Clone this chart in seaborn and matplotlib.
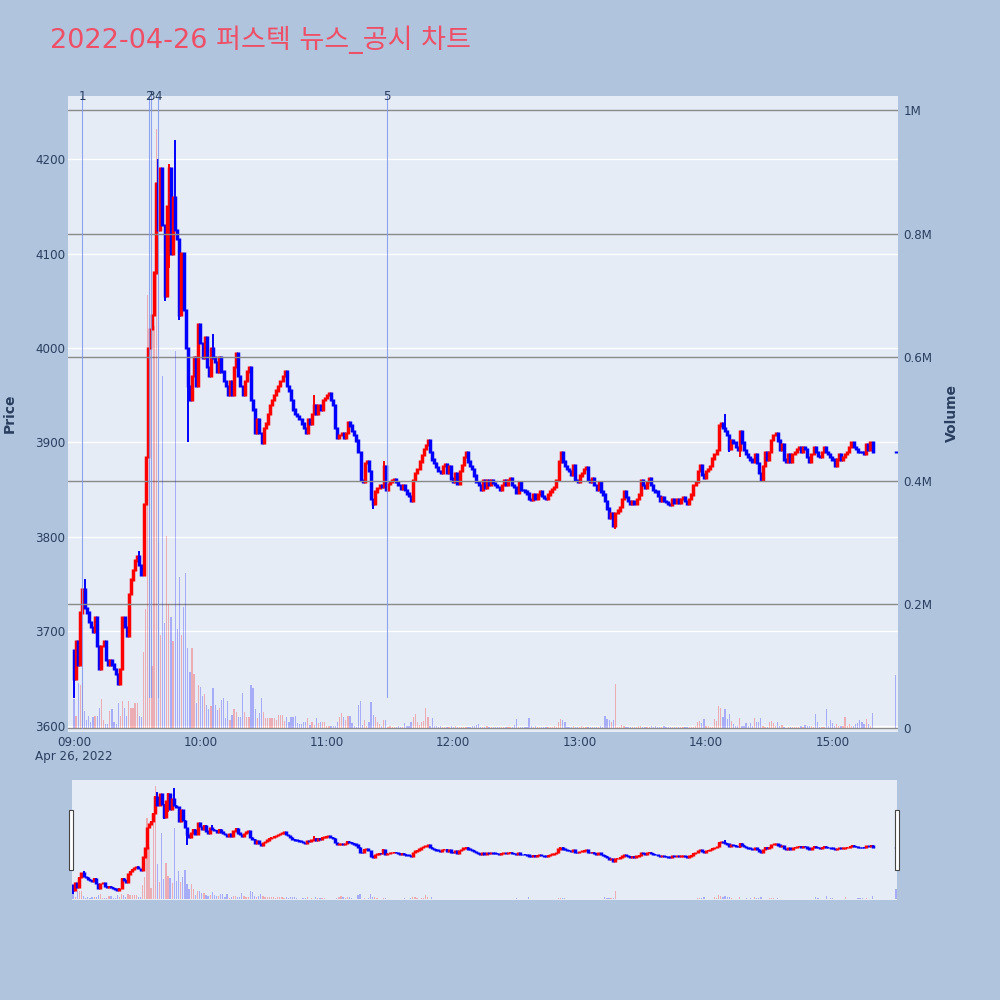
import numpy as np
import pandas as pd
import matplotlib
matplotlib.use("Agg")
import matplotlib.pyplot as plt
import seaborn as sns
from matplotlib.patches import Rectangle
from matplotlib.transforms import blended_transform_factory

# ---------------- data ----------------
title = "2022-04-26 퍼스텍 뉴스_공시 차트"
minutes = list(range(380)) + [390]          # minutes after 09:00
open_first = 3680
close = [
    3650, 3690, 3665, 3720, 3745, 3725, 3720, 3710, 3705, 3700,
    3715, 3685, 3660, 3685, 3690, 3670, 3665, 3670, 3665, 3660,
    3655, 3645, 3660, 3715, 3705, 3695, 3740, 3755, 3765, 3775,
    3780, 3770, 3760, 3835, 3885, 4000, 4020, 4035, 4080, 4175,
    4125, 4190, 4130, 4055, 4150, 4190, 4100, 4160, 4125, 4115,
    4035, 4100, 4040, 4000, 3960, 3945, 3970, 3990, 3960, 4025,
    4005, 3990, 4012, 3980, 3970, 4000, 3990, 3985, 3975, 3990,
    3975, 3965, 3960, 3950, 3965, 3950, 3980, 3995, 3970, 3960,
    3950, 3965, 3975, 3980, 3945, 3935, 3910, 3925, 3910, 3900,
    3915, 3920, 3930, 3940, 3945, 3950, 3955, 3960, 3965, 3970,
    3975, 3960, 3955, 3945, 3935, 3930, 3928, 3925, 3920, 3915,
    3910, 3925, 3920, 3930, 3940, 3930, 3940, 3935, 3945, 3947,
    3950, 3952, 3945, 3940, 3915, 3905, 3908, 3910, 3905, 3910,
    3922, 3918, 3912, 3908, 3902, 3890, 3860, 3858, 3878, 3880,
    3870, 3840, 3835, 3848, 3852, 3855, 3853, 3875, 3850, 3856,
    3858, 3860, 3861, 3858, 3855, 3851, 3855, 3850, 3846, 3843,
    3838, 3860, 3868, 3872, 3880, 3887, 3893, 3897, 3903, 3890,
    3882, 3878, 3874, 3870, 3868, 3875, 3877, 3868, 3875, 3862,
    3858, 3868, 3856, 3870, 3876, 3885, 3890, 3880, 3875, 3872,
    3865, 3858, 3855, 3850, 3860, 3852, 3860, 3855, 3860, 3857,
    3855, 3853, 3850, 3855, 3860, 3855, 3860, 3862, 3855, 3853,
    3847, 3858, 3850, 3850, 3848, 3846, 3840, 3839, 3845, 3840,
    3845, 3848, 3843, 3841, 3840, 3845, 3848, 3851, 3853, 3860,
    3880, 3890, 3880, 3875, 3872, 3870, 3866, 3876, 3860, 3858,
    3865, 3868, 3872, 3874, 3860, 3858, 3862, 3855, 3850, 3858,
    3848, 3845, 3838, 3830, 3820, 3825, 3812, 3825, 3828, 3832,
    3840, 3848, 3842, 3838, 3835, 3838, 3835, 3840, 3845, 3860,
    3855, 3852, 3858, 3862, 3855, 3850, 3848, 3843, 3838, 3842,
    3838, 3837, 3835, 3834, 3840, 3836, 3840, 3836, 3840, 3842,
    3838, 3835, 3840, 3845, 3855, 3858, 3870, 3876, 3866, 3863,
    3870, 3872, 3875, 3883, 3888, 3892, 3918, 3920, 3915, 3912,
    3908, 3893, 3902, 3900, 3895, 3892, 3912, 3900, 3892, 3888,
    3885, 3882, 3880, 3888, 3878, 3868, 3860, 3875, 3890, 3882,
    3890, 3903, 3908, 3910, 3902, 3892, 3898, 3882, 3880, 3888,
    3880, 3888, 3890, 3893, 3895, 3890, 3895, 3893, 3885, 3880,
    3888, 3895, 3890, 3886, 3885, 3890, 3895, 3890, 3888, 3885,
    3882, 3875, 3882, 3888, 3882, 3885, 3888, 3890, 3895, 3900,
    3895, 3893, 3890, 3890, 3890, 3888, 3898, 3892, 3900, 3890,
    3890,
]
extra_high = {5: 3755, 31: 3785, 40: 4200, 45: 4195, 48: 4220, 66: 4015,
              114: 3950, 147: 3880, 232: 3890, 309: 3930}
extra_low = {0: 3630, 43: 4050, 45: 4085, 50: 4030, 54: 3900, 142: 3830,
             257: 3808, 311: 3890, 316: 3885}
volume_k = [
    47, 20, 73, 70, 73, 27, 13, 20, 10, 17,
    20, 20, 33, 47, 13, 7, 7, 27, 30, 10,
    7, 40, 20, 43, 33, 20, 43, 33, 33, 40,
    40, 20, 17, 123, 193, 700, 450, 100, 650, 970,
    300, 150, 570, 170, 310, 200, 180, 140, 610, 160,
    245, 150, 195, 250, 130, 90, 130, 88, 40, 70,
    67, 52, 55, 37, 30, 35, 64, 37, 29, 32,
    45, 48, 16, 43, 13, 21, 30, 26, 18, 18,
    57, 26, 18, 17, 70, 64, 30, 16, 24, 48,
    26, 16, 16, 16, 16, 16, 13, 21, 21, 21,
    12, 18, 10, 17, 17, 19, 8, 6, 6, 10,
    10, 16, 5, 10, 5, 16, 8, 9, 9, 10,
    3, 3, 4, 3, 3, 10, 17, 25, 18, 13,
    19, 19, 8, 3, 1, 37, 43, 5, 13, 3,
    10, 42, 21, 17, 10, 6, 3, 13, 13, 2,
    4, 2, 2, 1, 3, 2, 2, 8, 3, 3,
    9, 17, 23, 10, 5, 10, 12, 33, 17, 3,
    16, 3, 3, 1, 3, 1, 1, 1, 1, 3,
    1, 3, 1, 2, 2, 1, 1, 2, 1, 4,
    3, 5, 6, 2, 1, 1, 4, 1, 1, 2,
    1, 1, 1, 2, 2, 1, 1, 1, 1, 5,
    14, 2, 1, 2, 2, 2, 16, 4, 1, 4,
    1, 2, 1, 1, 1, 2, 1, 1, 3, 2,
    9, 14, 13, 9, 1, 1, 1, 3, 1, 1,
    2, 3, 1, 1, 1, 1, 1, 2, 1, 1,
    3, 1, 19, 14, 13, 10, 13, 71, 1, 1,
    5, 3, 1, 1, 1, 1, 1, 1, 4, 3,
    1, 1, 1, 1, 4, 1, 3, 1, 1, 1,
    4, 1, 1, 2, 1, 2, 1, 1, 1, 1,
    1, 1, 1, 2, 1, 4, 9, 11, 8, 15,
    3, 3, 2, 1, 15, 12, 36, 32, 17, 30,
    15, 23, 11, 6, 4, 4, 16, 4, 3, 8,
    4, 8, 4, 16, 10, 9, 16, 4, 2, 1,
    9, 11, 8, 3, 9, 4, 5, 2, 0, 1,
    1, 1, 1, 1, 1, 3, 1, 5, 3, 3,
    3, 1, 22, 10, 2, 1, 2, 30, 3, 13,
    8, 4, 6, 3, 4, 3, 17, 3, 6, 4,
    3, 6, 8, 13, 9, 6, 14, 6, 3, 24,
    85,
]
news_minutes = [3.8, 35.6, 36.4, 40.0, 148.4]
news_labels = ["1", "2", "3", "4", "5"]
price_ticks = [3600, 3700, 3800, 3900, 4000, 4100, 4200]
vol_ticks = [0, 200000, 400000, 600000, 800000, 1000000]
vol_tick_labels = ["0", "0.2M", "0.4M", "0.6M", "0.8M", "1M"]
hour_ticks = [0, 60, 120, 180, 240, 300, 360]
hour_labels = ["09:00", "10:00", "11:00", "12:00", "13:00", "14:00", "15:00"]
date_label = "Apr 26, 2022"

# ---------------- derived table ----------------
opens = [open_first] + close[:-1]
df = pd.DataFrame({"minute": minutes, "open": opens, "close": close,
                   "volume": [v * 1000.0 for v in volume_k]})
df["high"] = [max(o, c, extra_high.get(i, 0)) for i, (o, c) in enumerate(zip(df.open, df.close))]
df["low"] = [min(o, c, extra_low.get(i, 1e9)) for i, (o, c) in enumerate(zip(df.open, df.close))]
df["dir"] = np.where(df.close > df.open, "up", "down")

# ---------------- style ----------------
sns.set_theme(style="white")
plt.rcParams["font.family"] = ["DejaVu Sans", "Noto Sans CJK KR"]
FIG_BG = "#B0C4DE"
PLOT_BG = "#E5ECF6"
TXT = "#2a3f5f"
UP, DOWN = "#FF0000", "#0000FF"
palette = {"up": UP, "down": DOWN}

PRICE_LIM = (3593.6, 4266.7)
VOL_LIM = (-6500, 1022700)

fig = plt.figure(figsize=(10, 10), dpi=100, facecolor=FIG_BG)


def draw_candles(ax, pad, body_lw):
    cols = [UP if d == "up" else DOWN for d in df["dir"]]
    lo = np.minimum(df.open, df.close) - pad
    hi = np.maximum(df.open, df.close) + pad
    ax.vlines(df.minute, df.low, df.high, colors=cols, lw=1.4, zorder=3)
    ax.vlines(df.minute, lo, hi, colors=cols, lw=body_lw, zorder=4)


def draw_volume(ax):
    sns.histplot(data=df, x="minute", weights="volume", hue="dir",
                 hue_order=["up", "down"], palette=palette,
                 binwidth=1.0, binrange=(-0.5, 390.5),
                 shrink=0.6, alpha=0.27, linewidth=0, legend=False, ax=ax)


# ---------------- main panel ----------------
ax = fig.add_axes([0.068, 0.268, 0.830, 0.636])
ax.set_facecolor(PLOT_BG)
ax.set_xlim(-2.85, 391.1)
ax.set_ylim(*PRICE_LIM)
ax.set_axisbelow(True)
ax.set_yticks(price_ticks)
ax.yaxis.grid(True, color="white", lw=1.0)
ax.xaxis.grid(False)
draw_candles(ax, pad=1.2, body_lw=2.5)
ax.set_xticks(hour_ticks)
ax.set_xticklabels(hour_labels)
ax.tick_params(axis="both", length=0, labelsize=8.6, labelcolor=TXT)
ax.tick_params(axis="x", pad=3)
ax.tick_params(axis="y", pad=2)
for s in ax.spines.values():
    s.set_visible(False)
ax.set_xlabel("")
ax.set_ylabel("")
ax.text(0, -0.039, date_label, transform=blended_transform_factory(ax.transData, ax.transAxes),
        ha="center", va="center", fontsize=8.6, color=TXT)

ax2 = ax.twinx()
ax2.patch.set_visible(False)
draw_volume(ax2)
ax2.set_xlim(-2.85, 391.1)
ax2.set_ylim(*VOL_LIM)
ax2.set_yticks(vol_ticks)
ax2.set_yticklabels(vol_tick_labels)
ax2.set_axisbelow(True)
ax2.yaxis.grid(True, color="#8a8a8a", lw=1.0)
ax2.xaxis.grid(False)
ax2.axhline(0, color="white", lw=1.6, zorder=0.5)
ax2.tick_params(axis="y", length=0, labelsize=8.6, labelcolor=TXT, pad=4)
ax2.set_xlabel("")
ax2.set_ylabel("")
for s in ax2.spines.values():
    s.set_visible(False)

tr = blended_transform_factory(ax2.transData, ax2.transAxes)
for i, (m, lab) in enumerate(zip(news_minutes, news_labels)):
    y0 = 0.006 if i == 0 else 0.055
    ax2.plot([m, m], [y0, 1.0], transform=tr, color="#7f96ee", lw=0.8, alpha=0.85, zorder=5)
    ax2.text(m, 0.999, lab, transform=tr, ha="center", va="center", fontsize=8.6,
             color=TXT, zorder=6, clip_on=False)

fig.text(0.010, 0.587, "Price", rotation=90, ha="center", va="center",
         fontsize=10, fontweight="bold", color=TXT)
fig.text(0.952, 0.587, "Volume", rotation=90, ha="center", va="center",
         fontsize=10, fontweight="bold", color=TXT)
fig.text(0.050, 0.960, title, ha="left", va="center", fontsize=19.5,
         color="#EE4F66", family=["DejaVu Sans", "Noto Sans CJK KR"])

# ---------------- range slider ----------------
axs = fig.add_axes([0.072, 0.100, 0.825, 0.120])
axs.set_facecolor(PLOT_BG)
axs.set_xlim(-0.5, 390.5)
axs.set_ylim(*PRICE_LIM)
draw_candles(axs, pad=3.5, body_lw=2.5)
axs.set_xticks([])
axs.set_yticks([])
axs.set_xlabel("")
axs.set_ylabel("")
for s in axs.spines.values():
    s.set_visible(False)
axs2 = axs.twinx()
axs2.patch.set_visible(False)
draw_volume(axs2)
axs2.set_xlim(-0.5, 390.5)
axs2.set_ylim(*VOL_LIM)
axs2.set_yticks([])
axs2.set_xticks([])
axs2.set_xlabel("")
axs2.set_ylabel("")
for s in axs2.spines.values():
    s.set_visible(False)

for x0 in (0.0693, 0.8950):
    fig.patches.append(Rectangle((x0, 0.130), 0.0040, 0.060, transform=fig.transFigure,
                                 facecolor="white", edgecolor="#444444", lw=0.8, zorder=10))

fig.savefig("out.png", dpi=100, facecolor=FIG_BG)
